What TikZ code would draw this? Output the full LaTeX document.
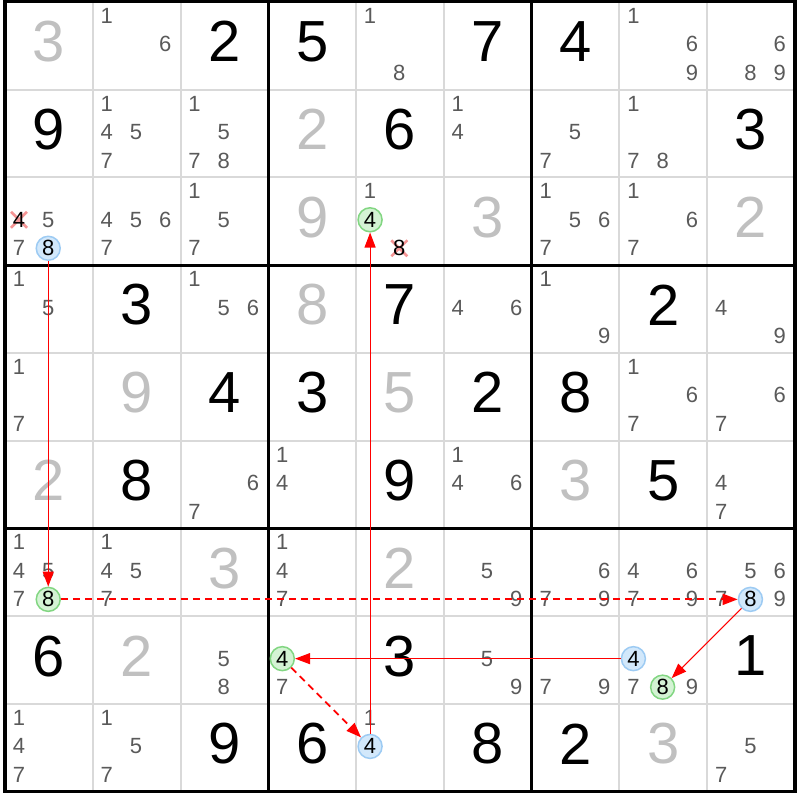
\documentclass[tikz,border=0pt]{standalone}
\usepackage{fontspec}
\setmainfont{Liberation Sans}
\usetikzlibrary{arrows.meta}

\definecolor{solvedgrey}{HTML}{C0C0C0}
\definecolor{candgrey}{HTML}{5A5A5A}
\definecolor{gridgrey}{HTML}{D9D9D9}
\definecolor{onfill}{HTML}{D2E8FB}
\definecolor{ondraw}{HTML}{9DCBF3}
\definecolor{offfill}{HTML}{D4F3D4}
\definecolor{offdraw}{HTML}{82D682}
\definecolor{crossred}{HTML}{F59595}

\tikzstyle{given} = [inner sep=0pt, font=\fontsize{58}{58}\selectfont]
\tikzstyle{solved} = [given, text=solvedgrey]
\tikzstyle{cand} = [inner sep=0pt, text=candgrey, font=\fontsize{22}{22}\selectfont]
\tikzstyle{oncand} = [cand, circle, text=black, draw=ondraw, fill=onfill,
    line width=1.5pt, minimum size=24pt]
\tikzstyle{offcand} = [oncand, draw=offdraw, fill=offfill]
\tikzstyle{killed} = [cand, text=black]
\tikzstyle{strong} = [red, line width=1.1pt, -{Triangle[length=15pt,width=11pt]}]
\tikzstyle{weak} = [strong, line width=1.8pt, dash pattern=on 7pt off 5pt]

% row, column, digit -> \cx, \cy
\newcommand{\candxy}[3]{%
  \pgfmathsetmacro\cx{5+(#2-1)*87.8+14+29.25*mod(#3-1,3)}%
  \pgfmathsetmacro\cy{1.5+(#1-1)*87.8+14+28.5*int((#3-1)/3)}}

\begin{document}
\begin{tikzpicture}[x=1pt,y=-1pt]
  \fill[white] (0,0) rectangle (800,800);
  % Draw grid
  \foreach \i in {1,2,4,5,7,8} {
    \draw[gridgrey, line width=2pt] ({5+\i*87.8},1.5) -- ({5+\i*87.8},791.7);
    \draw[gridgrey, line width=2pt] (5,{1.5+\i*87.8}) -- (795,{1.5+\i*87.8});
  }
  \foreach \i in {3,6} {
    \draw[line width=3pt] ({5+\i*87.8},1.5) -- ({5+\i*87.8},791.7);
    \draw[line width=3pt] (5,{1.5+\i*87.8}) -- (795,{1.5+\i*87.8});
  }
  \draw[line width=3.5pt] (5,1.5) rectangle (795,791.7);
  % Place givens and solved cells
  \foreach \r/\c/\v in {1/3/2, 1/4/5, 1/6/7, 1/7/4, 2/1/9, 2/5/6, 2/9/3,
      4/2/3, 4/5/7, 4/8/2, 5/3/4, 5/4/3, 5/6/2, 5/7/8, 6/2/8, 6/5/9, 6/8/5,
      8/1/6, 8/5/3, 8/9/1, 9/3/9, 9/4/6, 9/6/8, 9/7/2}
    \node[given] (g-\r-\c) at ({5+(\c-0.5)*87.8},{1.5+(\r-0.5)*87.8-4}) {\v};
  \foreach \r/\c/\v in {1/1/3, 2/4/2, 3/4/9, 3/6/3, 3/9/2, 4/4/8, 5/2/9,
      5/5/5, 6/1/2, 6/7/3, 7/3/3, 7/5/2, 8/2/2, 9/8/3}
    \node[solved] (g-\r-\c) at ({5+(\c-0.5)*87.8},{1.5+(\r-0.5)*87.8-4}) {\v};
  % Place candidates
  \foreach \r/\c/\ds in {1/2/{1,6}, 1/5/{1,8}, 1/8/{1,6,9}, 1/9/{6,8,9},
      2/2/{1,4,5,7}, 2/3/{1,5,7,8}, 2/6/{1,4}, 2/7/{5,7}, 2/8/{1,7,8},
      3/1/{5,7}, 3/2/{4,5,6,7}, 3/3/{1,5,7}, 3/5/{1}, 3/7/{1,5,6,7}, 3/8/{1,6,7},
      4/1/{1,5}, 4/3/{1,5,6}, 4/6/{4,6}, 4/7/{1,9}, 4/9/{4,9},
      5/1/{1,7}, 5/8/{1,6,7}, 5/9/{6,7},
      6/3/{6,7}, 6/4/{1,4}, 6/6/{1,4,6}, 6/9/{4,7},
      7/1/{1,4,5,7}, 7/2/{1,4,5,7}, 7/4/{1,4,7}, 7/6/{5,9}, 7/7/{6,7,9},
      7/8/{4,6,7,9}, 7/9/{5,6,7,9},
      8/3/{5,8}, 8/4/{7}, 8/6/{5,9}, 8/7/{7,9}, 8/8/{7,9},
      9/1/{1,4,7}, 9/2/{1,5,7}, 9/5/{1}, 9/9/{5,7}}
    \foreach \d in \ds {
      \candxy{\r}{\c}{\d}
      \node[cand] (c-\r-\c-\d) at (\cx,\cy) {\d};
    }
  % Eliminated candidates
  \foreach \r/\c/\d in {3/1/4, 3/5/8} {
    \candxy{\r}{\c}{\d}
    \draw[crossred, line width=2.6pt] (\cx-8,\cy-8) -- (\cx+8,\cy+8)
      (\cx-8,\cy+8) -- (\cx+8,\cy-8);
    \node[killed] (k-\r-\c-\d) at (\cx,\cy) {\d};
  }
  % Chain candidates
  \foreach \r/\c/\d in {3/1/8, 7/9/8, 8/8/4, 9/5/4} {
    \candxy{\r}{\c}{\d}
    \node[oncand] (on-\r-\c-\d) at (\cx,\cy) {\d};
  }
  \foreach \r/\c/\d in {7/1/8, 8/8/8, 8/4/4, 3/5/4} {
    \candxy{\r}{\c}{\d}
    \node[offcand] (off-\r-\c-\d) at (\cx,\cy) {\d};
  }
  % Draw links
  \draw[strong] (on-3-1-8) -- (off-7-1-8);
  \draw[weak] (off-7-1-8) -- (on-7-9-8);
  \draw[strong] (on-7-9-8) -- (off-8-8-8);
  \draw[strong] (on-8-8-4) -- (off-8-4-4);
  \draw[weak] (off-8-4-4) -- (on-9-5-4);
  \draw[strong] (on-9-5-4) -- (off-3-5-4);
\end{tikzpicture}
\end{document}
